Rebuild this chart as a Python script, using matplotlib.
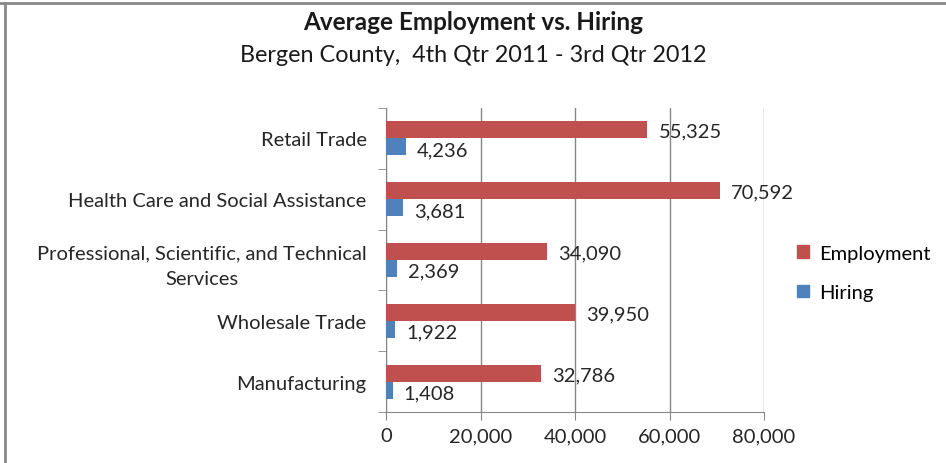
import numpy as np
import matplotlib.pyplot as plt
from matplotlib.lines import Line2D

categories = ['Retail Trade', 'Health Care and Social Assistance',
              'Professional, Scientific, and Technical\nServices',
              'Wholesale Trade', 'Manufacturing']
employment = [55325, 70592, 34090, 39950, 32786]
hiring = [4236, 3681, 2369, 1922, 1408]
xticks = [0, 20000, 40000, 60000, 80000]

red = '#C0504D'
blue = '#4F81BD'
grid_col = '#868686'
txt = '#262626'
fs = 14.5

plt.rcParams['font.family'] = ['Lato', 'DejaVu Sans']

fig = plt.figure(figsize=(9.46, 4.64), dpi=100)
ax = fig.add_axes([386/946, 1-413/464, 378/946, 304/464])

y = np.arange(len(categories))
h = 0.28
ax.barh(y - h/2, employment, height=h, color=red, label='Employment', zorder=3)
ax.barh(y + h/2, hiring, height=h, color=blue, label='Hiring', zorder=3)

for yi, v in zip(y, employment):
    ax.annotate('{:,}'.format(v), (v, yi - h/2), xytext=(8, -1), textcoords='offset points',
                va='center', ha='left', fontsize=fs, color=txt)
for yi, v in zip(y, hiring):
    ax.annotate('{:,}'.format(v), (v, yi + h/2), xytext=(8, -2), textcoords='offset points',
                va='center', ha='left', fontsize=fs, color=txt)

ax.set_xlim(0, 80000)
ax.set_ylim(len(categories) - 0.5, -0.5)
ax.set_xticks(xticks)
ax.set_xticklabels(['{:,}'.format(t) for t in xticks], fontsize=fs, color=txt)
ax.set_yticks(y)
ax.set_yticklabels(categories, fontsize=fs, color=txt, multialignment='center', linespacing=1.6)
ax.tick_params(axis='y', length=0, pad=14)
ax.set_yticks(np.arange(len(categories) + 1) - 0.5, minor=True)
ax.tick_params(axis='y', which='minor', length=6, color=grid_col, direction='out')
ax.tick_params(axis='x', length=6, color=grid_col, direction='out', pad=5)
ax.xaxis.grid(True, color=grid_col, linewidth=1, zorder=0)
for s in ['top', 'right']:
    ax.spines[s].set_visible(False)
for s in ['left', 'bottom']:
    ax.spines[s].set_color(grid_col)

handles = [plt.Rectangle((0, 0), 1, 1, color=red), plt.Rectangle((0, 0), 1, 1, color=blue)]
fig.legend(handles, ['Employment', 'Hiring'], loc='center left', bbox_to_anchor=(779/946, 1-274/464),
           frameon=False, fontsize=14.5, handlelength=0.6, handleheight=0.6, handletextpad=0.5,
           labelspacing=1.1)

fig.text(0.5, 1-22/464, 'Average Employment vs. Hiring', ha='center', va='center',
         fontsize=17.5, fontweight='bold', color='#1a1a1a')
fig.text(0.5, 1-55/464, 'Bergen County,  4th Qtr 2011 - 3rd Qtr 2012', ha='center', va='center',
         fontsize=16.8, color='#1a1a1a')

fig.add_artist(Line2D([0, 1], [1-3.5/464, 1-3.5/464], color='#888888', linewidth=2))
fig.add_artist(Line2D([5/946, 5/946], [0, 1-3.5/464], color='#888888', linewidth=2))

fig.savefig('out.png', dpi=100)
